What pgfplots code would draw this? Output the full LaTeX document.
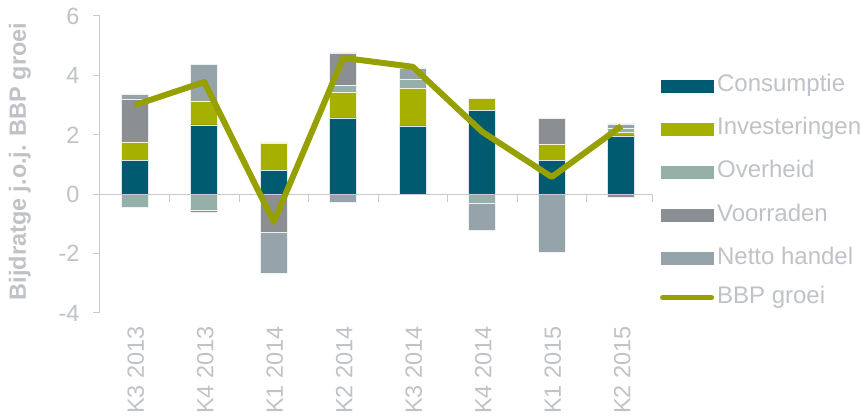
\documentclass[border=0pt]{standalone}
\usepackage{pgfplots}
\usepackage{pgfplotstable}
\pgfplotsset{compat=1.18}
\usepackage{fontspec}
\setmainfont{Liberation Sans}
\definecolor{cons}{RGB}{0,90,112}
\definecolor{inv}{RGB}{165,176,0}
\definecolor{ovh}{RGB}{149,176,168}
\definecolor{vrr}{RGB}{139,142,146}
\definecolor{nth}{RGB}{149,163,171}
\definecolor{bbp}{RGB}{150,160,0}
\definecolor{txt}{RGB}{191,194,199}
\definecolor{axl}{RGB}{200,202,205}

\pgfplotstableread{
x cons inv ovh vrr nth
0 1.15 0.59 0 1.47 0.15
1 2.33 0.79 0 0 1.26
2 0.81 0.92 0 0 0
3 2.57 0.86 0.24 1.09 0
4 2.30 1.25 0.31 0 0.39
5 2.83 0.40 0 0 0
6 1.15 0.53 0 0.87 0
7 1.96 0.13 0.14 0 0.14
}\posdata

\pgfplotstableread{
x ovh vrr nth
0 -0.43 0 0
1 -0.53 -0.07 0
2 0 -1.28 -1.39
3 0 0 -0.26
4 0 0 0
5 -0.29 0 -0.91
6 0 0 -1.94
7 0 -0.10 0
}\negdata

\pgfplotstableread{
x g
0 3.00
1 3.78
2 -0.93
3 4.59
4 4.29
5 2.10
6 0.58
7 2.29
}\gdpdata

\pgfplotsset{
  base/.style={
    scale only axis, width=556pt, height=297pt,
    xmin=-0.5, xmax=7.5, ymin=-4, ymax=6,
    clip=false,
  },
  barleg/.style={legend image code/.code={\fill[##1,draw=none] (0pt,-3.5pt) rectangle (53pt,9.5pt);}},
  lineleg/.style={legend image code/.code={\draw[##1] (2pt,3pt) -- (51pt,3pt);}},
  segm/.style={fill=#1, draw=white!85!#1, line width=0.6pt, barleg},
}

\begin{document}
\begin{tikzpicture}[font=\fontsize{23.5}{28}\selectfont]
\useasboundingbox (-100pt,-104pt) rectangle (761pt,313pt);
% positive stacks + axes + legend
\begin{axis}[base,
  ybar stacked, bar width=27pt,
  axis y line*=left, axis x line*=bottom,
  axis line style={draw=none},
  ytick={-4,-2,0,2,4,6},
  major tick length=0pt,
  xtick={0,...,7},
  xticklabels={K3 2013,K4 2013,K1 2014,K2 2014,K3 2014,K4 2014,K1 2015,K2 2015},
  tick style={draw=none},
  xticklabel style={rotate=90, anchor=east, text=txt, inner sep=2pt, xshift=-11pt, yshift=-1pt},
  yticklabel style={text=txt, xshift=-17pt},
  /pgf/number format/assume math mode=true,
  ylabel={\bfseries Bijdratge j.o.j. BBP groei},
  ylabel style={text=txt, at={(axis description cs:-0.144,0.51)}, anchor=center},
  legend style={at={(1.007,0.406)}, anchor=west, draw=none, fill=none,
    inner sep=0pt, row sep=29pt, text=txt, font=\fontsize{24}{28}\selectfont,
    nodes={inner xsep=3pt, inner ysep=0pt, text height=0.72em, text depth=0.2em, anchor=west}},
  legend cell align=left,
]
\addplot[segm=cons] table[x=x,y=cons]{\posdata};
\addlegendentry{Consumptie}
\addplot[segm=inv] table[x=x,y=inv]{\posdata};
\addlegendentry{Investeringen}
\addplot[segm=ovh] table[x=x,y=ovh]{\posdata};
\addlegendentry{Overheid}
\addplot[segm=vrr] table[x=x,y=vrr]{\posdata};
\addlegendentry{Voorraden}
\addplot[segm=nth] table[x=x,y=nth]{\posdata};
\addlegendentry{Netto handel}
\addlegendimage{bbp, line width=5pt, line cap=round, lineleg}
\addlegendentry{BBP groei}
\end{axis}
% negative stacks
\begin{axis}[base, hide axis, ybar stacked, bar width=27pt]
\addplot[segm=ovh] table[x=x,y=ovh]{\negdata};
\addplot[segm=vrr] table[x=x,y=vrr]{\negdata};
\addplot[segm=nth] table[x=x,y=nth]{\negdata};
\end{axis}
% axes lines and BBP line
\begin{axis}[base, hide axis]
\draw[axl, line width=1pt] (axis cs:-0.5,6) -- (axis cs:-0.5,-4);
\draw[axl, line width=1pt] (axis cs:-0.5,6) -- ++(-7pt,0pt);
\draw[axl, line width=1pt] (axis cs:-0.5,4) -- ++(-7pt,0pt);
\draw[axl, line width=1pt] (axis cs:-0.5,2) -- ++(-7pt,0pt);
\draw[axl, line width=1pt] (axis cs:-0.5,0) -- ++(-7pt,0pt);
\draw[axl, line width=1pt] (axis cs:-0.5,-2) -- ++(-7pt,0pt);
\draw[axl, line width=1pt] (axis cs:-0.5,-4) -- ++(-7pt,0pt);
\draw[axl, line width=1pt] (axis cs:-0.5,0) -- (axis cs:7.45,0);
\draw[axl, line width=1pt] (axis cs:0.5,0) -- ++(0pt,-8pt);
\draw[axl, line width=1pt] (axis cs:1.5,0) -- ++(0pt,-8pt);
\draw[axl, line width=1pt] (axis cs:2.5,0) -- ++(0pt,-8pt);
\draw[axl, line width=1pt] (axis cs:3.5,0) -- ++(0pt,-8pt);
\draw[axl, line width=1pt] (axis cs:4.5,0) -- ++(0pt,-8pt);
\draw[axl, line width=1pt] (axis cs:5.5,0) -- ++(0pt,-8pt);
\draw[axl, line width=1pt] (axis cs:6.5,0) -- ++(0pt,-8pt);
\draw[axl, line width=1pt] (axis cs:7.45,0) -- ++(0pt,-8pt);
\addplot[bbp, line width=6pt, line join=round, mark=none] table[x=x,y=g]{\gdpdata};
\end{axis}
\end{tikzpicture}
\end{document}
